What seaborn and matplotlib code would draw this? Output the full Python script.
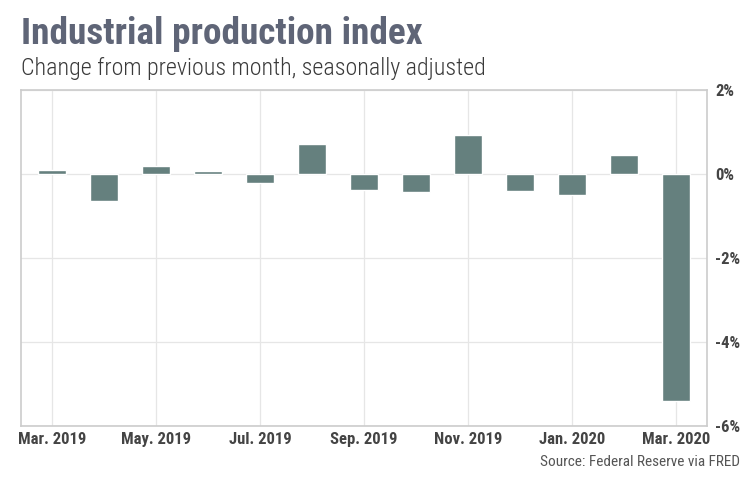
import matplotlib
matplotlib.use("Agg")
import matplotlib.pyplot as plt
from matplotlib import font_manager
import seaborn as sns
import pandas as pd

# -----------------------------
# Data
# -----------------------------
months = ["Mar. 2019", "Apr. 2019", "May. 2019", "Jun. 2019", "Jul. 2019",
          "Aug. 2019", "Sep. 2019", "Oct. 2019", "Nov. 2019", "Dec. 2019",
          "Jan. 2020", "Feb. 2020", "Mar. 2020"]
change_pct = [0.1, -0.64, 0.2, 0.06, -0.21, 0.71, -0.38, -0.44, 0.93,
              -0.41, -0.49, 0.45, -5.4]
yticks = [2, 0, -2, -4, -6]
ytick_labels = ["2%", "0%", "-2%", "-4%", "-6%"]

df = pd.DataFrame({"month": months, "change": change_pct})

# -----------------------------
# Fonts: prefer a narrow family if one is installed
# -----------------------------
installed = {f.name for f in font_manager.fontManager.ttflist}
narrow = "Roboto"
for cand in ["Roboto Condensed", "Liberation Sans Narrow", "DejaVu Sans Condensed"]:
    if cand in installed:
        narrow = cand
        break

sns.set_style("white")
plt.rcParams["font.family"] = [narrow, "DejaVu Sans"]

BAR = "#65807e"
GRID = "#e6e6e6"
EDGE = "#cccccc"

# -----------------------------
# Plot
# -----------------------------
fig = plt.figure(figsize=(7.54, 4.90), dpi=100)
ax = fig.add_axes([21 / 754, 64 / 490, 686 / 754, 336 / 490])

sns.barplot(data=df, x="month", y="change", color=BAR, width=0.545,
            saturation=1, ax=ax, zorder=3)

ax.set_xlim(-0.6, 12.6)
ax.set_ylim(-6, 2)

ax.set_xticks(range(0, len(months), 2))
ax.set_xticklabels(months[::2], fontsize=12, fontweight="bold", color="#444444")
ax.yaxis.tick_right()
ax.set_yticks(yticks)
ax.set_yticklabels(ytick_labels, fontsize=12, fontweight="bold", color="#444444")
ax.tick_params(axis="both", length=0)
ax.tick_params(axis="y", pad=6)
ax.tick_params(axis="x", pad=4)

ax.grid(True, color=GRID, linewidth=0.9, zorder=0)
ax.set_axisbelow(True)
for s in ax.spines.values():
    s.set_color(EDGE)
    s.set_linewidth(1.2)
ax.set_xlabel("")
ax.set_ylabel("")

fig.text(21 / 754, 1 - 44 / 490, "Industrial production index",
         fontsize=26.8, fontweight="bold", color="#5f6577", va="baseline")
fig.text(21 / 754, 1 - 75 / 490, "Change from previous month, seasonally adjusted",
         fontsize=17.3, fontweight="light", color="#3a3a3a", va="baseline")
fig.text(740 / 754, 1 - 466 / 490, "Source: Federal Reserve via FRED",
         fontsize=11, color="#555555", ha="right", va="baseline")

fig.savefig("out.png", dpi=100)
plt.close(fig)
